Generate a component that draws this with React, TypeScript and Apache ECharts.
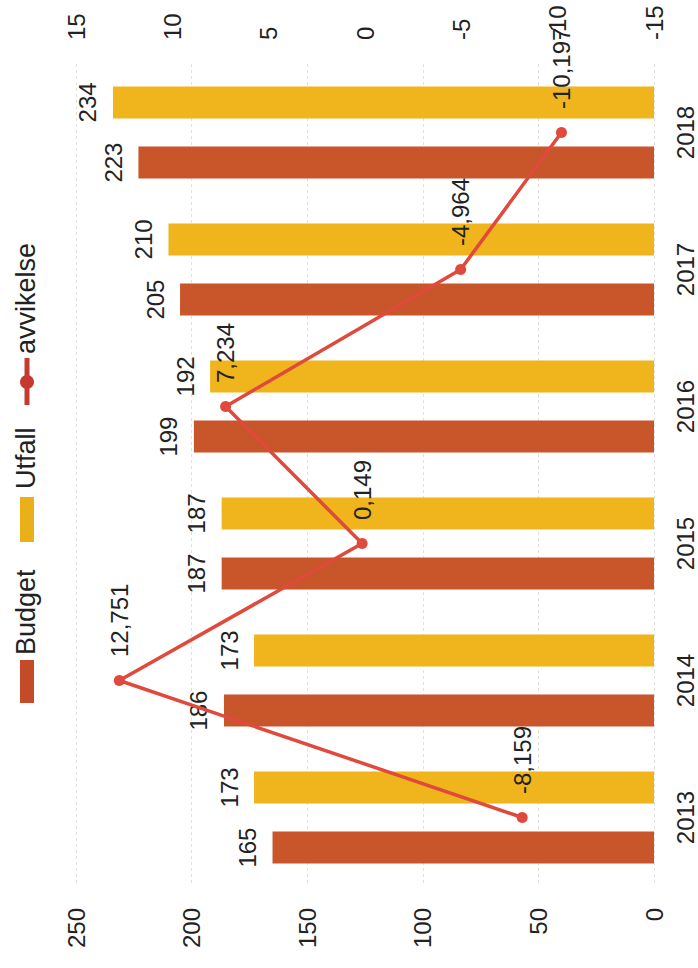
import React, { useEffect, useRef } from 'react';
import * as echarts from 'echarts';

const years = ['2013', '2014', '2015', '2016', '2017', '2018'];
const budget = [165, 186, 187, 199, 205, 223];
const utfall = [173, 173, 187, 192, 210, 234];
const avvikelse = [-8.159, 12.751, 0.149, 7.234, -4.964, -10.197];
const seriesNames = ['Budget', 'Utfall', 'avvikelse'];

const FONT = '"Liberation Sans", Arial, Helvetica, sans-serif';
const TXT = '#222';
const C_BUDGET = '#c9552b';
const C_UTFALL = '#f0b41d';
const C_LINE = '#df4a3c';

const fmt = (v: number) => String(v).replace('.', ',');

export default function App() {
  const ref = useRef<HTMLDivElement>(null);
  useEffect(() => {
    if (!ref.current) return;
    const chart = echarts.init(ref.current, undefined, { renderer: 'svg' });
    const barLabel = {
      show: true,
      position: 'left',
      rotate: 90,
      align: 'center',
      verticalAlign: 'bottom',
      distance: 13,
      fontSize: 24,
      fontFamily: FONT,
      color: TXT,
    };
    chart.setOption({
      animation: false,
      backgroundColor: '#fff',
      textStyle: { fontFamily: FONT },
      grid: { left: 76, right: 44, top: 64, bottom: 82 },
      xAxis: [
        {
          type: 'value',
          position: 'bottom',
          inverse: true,
          min: 0,
          max: 250,
          interval: 50,
          axisLine: { show: false },
          axisTick: { show: false },
          splitLine: { show: true, lineStyle: { color: '#e0e0e0', width: 1, type: [3, 3] } },
          axisLabel: { rotate: 90, margin: 22, fontSize: 24, color: TXT, fontFamily: FONT },
        },
        {
          type: 'value',
          position: 'top',
          inverse: true,
          min: -15,
          max: 15,
          interval: 5,
          axisLine: { show: false },
          axisTick: { show: false },
          splitLine: { show: false },
          axisLabel: { rotate: -90, margin: 24, fontSize: 24, color: TXT, fontFamily: FONT },
        },
      ],
      yAxis: {
        type: 'category',
        data: years,
        position: 'right',
        axisLine: { show: false },
        axisTick: { show: false },
        splitLine: { show: false },
        axisLabel: { rotate: 90, margin: 19, fontSize: 24, color: TXT, fontFamily: FONT },
      },
      series: [
        {
          name: seriesNames[1],
          type: 'bar',
          data: utfall,
          xAxisIndex: 0,
          barWidth: 32,
          barGap: '88%',
          itemStyle: { color: C_UTFALL },
          label: barLabel,
        },
        {
          name: seriesNames[0],
          type: 'bar',
          data: budget,
          xAxisIndex: 0,
          barWidth: 32,
          barGap: '88%',
          itemStyle: { color: C_BUDGET },
          label: barLabel,
        },
        {
          name: seriesNames[2],
          type: 'line',
          data: avvikelse,
          xAxisIndex: 1,
          z: 10,
          symbol: 'circle',
          symbolSize: 11,
          lineStyle: { color: C_LINE, width: 3.5 },
          itemStyle: { color: C_LINE },
          label: {
            show: true,
            position: 'top',
            rotate: 90,
            align: 'left',
            verticalAlign: 'middle',
            distance: 16,
            offset: [2, 0],
            fontSize: 24,
            fontFamily: FONT,
            color: TXT,
            formatter: (p: any) => fmt(p.value),
          },
        },
      ],
      graphic: [
        { type: 'rect', shape: { x: 20, y: 660, width: 14, height: 43 }, style: { fill: '#c44b2a' } },
        {
          type: 'text', x: 26, y: 655, rotation: Math.PI / 2,
          style: { text: seriesNames[0], fontSize: 27, fontFamily: FONT, fill: TXT, align: 'left', verticalAlign: 'middle', textAlign: 'left', textVerticalAlign: 'middle' },
        },
        { type: 'rect', shape: { x: 20, y: 497, width: 14, height: 45 }, style: { fill: '#e9b01a' } },
        {
          type: 'text', x: 26, y: 489, rotation: Math.PI / 2,
          style: { text: seriesNames[1], fontSize: 27, fontFamily: FONT, fill: TXT, align: 'left', verticalAlign: 'middle', textAlign: 'left', textVerticalAlign: 'middle' },
        },
        { type: 'line', shape: { x1: 27, y1: 405, x2: 27, y2: 358 }, style: { stroke: '#c43a31', lineWidth: 5 } },
        { type: 'circle', shape: { cx: 27, cy: 382, r: 7 }, style: { fill: '#c43a31' } },
        {
          type: 'text', x: 26, y: 354, rotation: Math.PI / 2,
          style: { text: seriesNames[2], fontSize: 27, fontFamily: FONT, fill: TXT, align: 'left', verticalAlign: 'middle', textAlign: 'left', textVerticalAlign: 'middle' },
        },
      ],
    });
    return () => chart.dispose();
  }, []);
  return (
    <div
      ref={ref}
      style={{ position: 'absolute', left: 0, top: 0, width: 698, height: 968, background: '#fff' }}
    />
  );
}
